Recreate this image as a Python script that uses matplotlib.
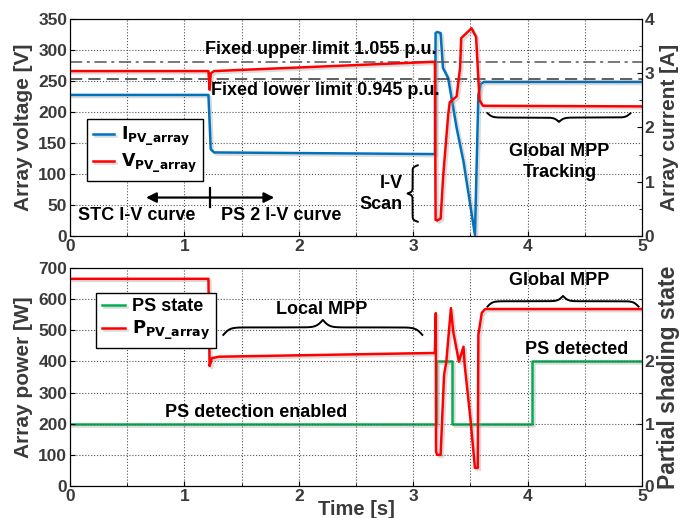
import numpy as np
import matplotlib
matplotlib.use("Agg")
import matplotlib.pyplot as plt
import matplotlib.patheffects as pe
from matplotlib.ticker import MultipleLocator

plt.rcParams['font.family'] = ['Liberation Sans', 'DejaVu Sans']
plt.rcParams['font.weight'] = 'bold'
plt.rcParams['mathtext.fontset'] = 'custom'
plt.rcParams['mathtext.bf'] = 'Liberation Sans Narrow:bold'
plt.rcParams['mathtext.rm'] = 'Liberation Sans Narrow:bold'

# ---- data ----
# array voltage [V]
t_v = [0.0, 1.21, 1.22, 1.23, 1.26, 3.19, 3.196, 3.21, 3.24, 3.263, 3.306, 3.32, 3.38, 3.41,
       3.42, 3.51, 3.55, 3.58, 3.61, 5.0]
v_pv = [266, 266, 236, 262, 266, 281, 26, 25, 28, 98, 195, 216, 225, 271,
        319, 335, 321, 219, 210, 209]
# array current [A]
t_i = [0.0, 1.21, 1.23, 1.26, 3.19, 3.196, 3.21, 3.24, 3.26, 3.306, 3.38, 3.44, 3.54, 3.57,
       3.59, 3.62, 5.0]
i_pv = [2.60, 2.60, 1.60, 1.54, 1.51, 3.74, 3.76, 3.74, 3.10, 2.91, 1.99, 1.37, 0.02, 2.60,
        2.80, 2.84, 2.84]
# array power [W]
t_p = [0.0, 1.21, 1.22, 1.24, 1.30, 3.19, 3.198, 3.20, 3.21, 3.24, 3.27, 3.29, 3.33, 3.35,
       3.40, 3.44, 3.45, 3.50, 3.54, 3.565, 3.57, 3.60, 3.63, 5.0]
p_pv = [665, 665, 385, 410, 415, 427, 555, 110, 100, 100, 356, 399, 571, 496,
        399, 447, 389, 218, 58, 58, 485, 556, 568, 568]
# partial shading state
t_ps = [0.0, 3.2, 3.2, 3.336, 3.336, 4.04, 4.04, 5.0]
ps_state = [1, 1, 2, 2, 1, 1, 2, 2]

upper_limit = 280
lower_limit = 252.5

blue = '#0072BD'
red = '#FF0000'
green = '#00B050'
lab_col = '#3a3a3a'
narrow = ['Liberation Sans Narrow', 'Liberation Sans', 'DejaVu Sans']

shadow = [pe.SimpleLineShadow(offset=(1.5, -1.5), shadow_color='#999999', alpha=0.35), pe.Normal()]


def brace(ax, a0, a1, pos, h, vertical=False, lw=1.4):
    # curly brace from a0 to a1 at position pos; h signed height (tip direction)
    u = np.linspace(0, 0.5, 200)
    k = 60.0
    yh = 1 / (1 + np.exp(-k * u)) + 1 / (1 + np.exp(-k * (u - 0.5)))
    yh = yh - yh[0]
    yh = yh / yh[-1]
    yy = np.concatenate((yh, yh[-2::-1]))
    xx = np.linspace(0, 1, len(yy))
    aa = a0 + (a1 - a0) * xx
    bb = pos + h * yy
    if vertical:
        ax.plot(bb, aa, color='k', lw=lw, clip_on=False)
    else:
        ax.plot(aa, bb, color='k', lw=lw, clip_on=False)


def style(ax):
    ax.set_xlim(0, 5)
    ax.xaxis.set_major_locator(MultipleLocator(1))
    ax.xaxis.set_minor_locator(MultipleLocator(0.5))
    ax.grid(True, which='major', linestyle=':', color='#555555', lw=0.8)
    ax.grid(True, which='minor', axis='x', linestyle=':', color='#555555', lw=0.8)
    ax.tick_params(direction='in', which='both', labelsize=12.5, labelcolor=lab_col, top=False, pad=2)
    for lab in ax.get_xticklabels() + ax.get_yticklabels():
        lab.set_fontweight('bold')


def style_r(axr):
    axr.tick_params(direction='in', which='both', labelsize=12.5, labelcolor=lab_col, pad=2)
    for lab in axr.get_yticklabels():
        lab.set_fontweight('bold')


lab_kw = dict(fontsize=15, fontweight='bold', color=lab_col, family=narrow)

fig = plt.figure(figsize=(6.8, 5.18), dpi=100)

# ---------------- top panel ----------------
ax1 = fig.add_axes([0.103, 0.5444, 0.841, 0.419])
ax1r = ax1.twinx()
style(ax1)
ax1.set_ylim(0, 350)
ax1.yaxis.set_major_locator(MultipleLocator(50))
ax1r.set_ylim(0, 4)
ax1r.yaxis.set_major_locator(MultipleLocator(1))
ax1r.yaxis.set_minor_locator(MultipleLocator(0.5))
style_r(ax1r)

ax1.axhline(upper_limit, color='#555555', lw=1.1, ls='-.', dashes=(8, 3, 2, 3))
ax1.axhline(lower_limit, color='#333333', lw=1.1, ls='--', dashes=(8, 4))
l_i, = ax1r.plot(t_i, i_pv, color=blue, lw=1.8, path_effects=shadow)
l_v, = ax1.plot(t_v, v_pv, color=red, lw=1.8, path_effects=shadow)
ax1.set_zorder(ax1r.get_zorder() + 1)
ax1.patch.set_visible(False)

ax1.set_ylabel('Array voltage [V]', labelpad=4, **lab_kw)
ax1r.set_ylabel('Array current [A]', labelpad=4, **lab_kw)

ax1.legend([l_i, l_v], [r'$\mathbf{I_{PV\_array}}$', r'$\mathbf{V_{PV\_array}}$'],
           loc='upper left', bbox_to_anchor=(0.03, 0.54), fontsize=12.5, fancybox=False,
           edgecolor='k', framealpha=1, handlelength=1.2, handletextpad=0.4,
           borderpad=0.35, labelspacing=0.2, borderaxespad=0)

tk = dict(fontsize=13, fontweight='bold', color='k')
ax1.text(2.19, 300, 'Fixed upper limit 1.055 p.u.', ha='center', va='center', **tk)
ax1.text(2.23, 235, 'Fixed lower limit 0.945 p.u.', ha='center', va='center', **tk)
ax1.text(0.58, 33, 'STC I-V curve', ha='center', va='center', **tk)
ax1.text(1.85, 33, 'PS 2 I-V curve', ha='center', va='center', **tk)
ax1.annotate('', xy=(0.64, 62), xytext=(1.81, 62),
             arrowprops=dict(arrowstyle='<|-|>', color='k', lw=1.6, mutation_scale=15))
ax1.plot([1.22, 1.22], [47, 78], color='k', lw=1.6)
ax1.text(2.91, 68, 'I-V\nScan', ha='right', va='center', multialignment='right',
         linespacing=1.3, **tk)
brace(ax1, 23, 114, 3.04, -0.09, vertical=True)
ax1.text(4.28, 120, 'Global MPP\nTracking', ha='center', va='center', linespacing=1.3, **tk)
brace(ax1, 3.65, 4.9, 198, -14)

# ---------------- bottom panel ----------------
ax2 = fig.add_axes([0.103, 0.0618, 0.841, 0.421])
ax2r = ax2.twinx()
style(ax2)
ax2.set_ylim(0, 700)
ax2.yaxis.set_major_locator(MultipleLocator(100))
ax2r.set_ylim(0, 3.5)
ax2r.set_yticks([0, 1, 2])
ax2r.yaxis.set_minor_locator(MultipleLocator(0.5))
style_r(ax2r)

l_ps, = ax2r.plot(t_ps, ps_state, color=green, lw=1.8, path_effects=shadow)
l_p, = ax2.plot(t_p, p_pv, color=red, lw=1.8, path_effects=shadow)
ax2.set_zorder(ax2r.get_zorder() + 1)
ax2.patch.set_visible(False)

ax2.set_ylabel('Array power [W]', labelpad=4, **lab_kw)
ax2r.set_ylabel('Partial shading state', labelpad=2, fontsize=16.5, fontweight='bold',
                color=lab_col, family=narrow)
ax2.set_xlabel('Time [s]', fontsize=14.5, fontweight='bold', color=lab_col, labelpad=-3)

ax2.legend([l_ps, l_p], ['PS state', r'$\mathbf{P_{PV\_array}}$'],
           loc='upper left', bbox_to_anchor=(0.046, 0.885), fontsize=13, fancybox=False,
           edgecolor='k', framealpha=1, handlelength=1.3, handletextpad=0.4,
           borderpad=0.3, labelspacing=0.2, borderaxespad=0)

ax2.text(2.2, 565, 'Local MPP', ha='center', va='center', **tk)
brace(ax2, 1.34, 3.08, 485, 48)
ax2.text(4.28, 658, 'Global MPP', ha='center', va='center', **tk)
brace(ax2, 3.65, 4.97, 576, 34)
ax2.text(4.43, 437, 'PS detected', ha='center', va='center', **tk)
ax2.text(1.63, 237, 'PS detection enabled', ha='center', va='center', **tk)

fig.savefig('out.png', dpi=100)
